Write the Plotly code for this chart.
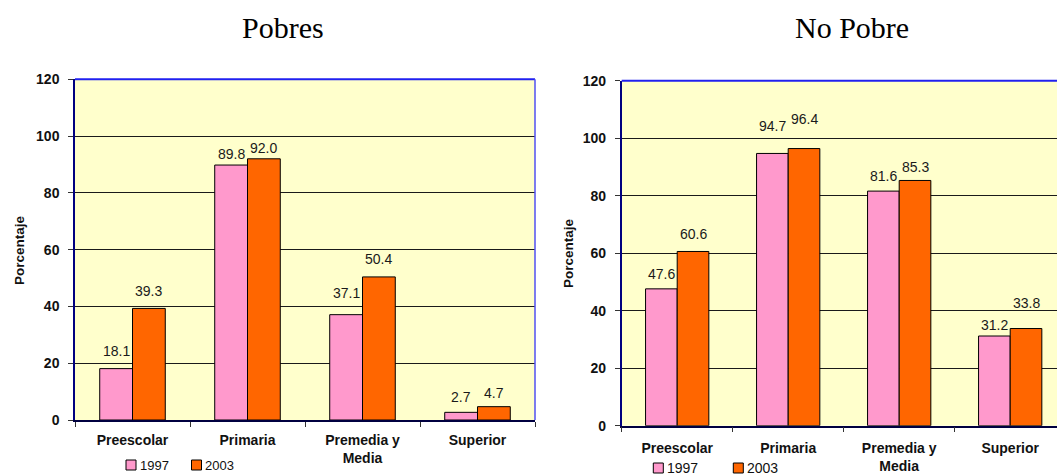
import plotly.graph_objects as go

# Data
categories = ["Preescolar", "Primaria", "Premedia y<br>Media", "Superior"]
years = ["1997", "2003"]
pobres_1997 = [18.1, 89.8, 37.1, 2.7]
pobres_2003 = [39.3, 92.0, 50.4, 4.7]
nopobre_1997 = [47.6, 94.7, 81.6, 31.2]
nopobre_2003 = [60.6, 96.4, 85.3, 33.8]
panel_titles = ["Pobres", "No Pobre"]
y_ticks = [0, 20, 40, 60, 80, 100, 120]

# Style
W, H = 1057, 476
PINK = "#FF99CC"
ORANGE = "#FF6600"
PLOT_BG = "#FFFFCC"
SANS = "Liberation Sans, Arial, sans-serif"
SERIF = "Liberation Serif, Times New Roman, serif"
BARGAP = 0.43
HALF = (1 - BARGAP) / 4  # offset of each bar centre from the category centre

# label lift above bar tops (pixels), per series and category
lift_left = {"1997": [18, 11, 22, 15], "2003": [17, 11, 18, 14]}
lift_right = {"1997": [15, 27, 15, 11], "2003": [17, 30, 13, 26]}


def px_x(p):
    return p / W


def px_y(p):
    return 1 - p / H


fig = go.Figure()

panels = [
    dict(xa="x", ya="y", v97=pobres_1997, v03=pobres_2003, lift=lift_left),
    dict(xa="x2", ya="y2", v97=nopobre_1997, v03=nopobre_2003, lift=lift_right),
]

for p in panels:
    for yr, vals, col in ((years[0], p["v97"], PINK), (years[1], p["v03"], ORANGE)):
        fig.add_trace(go.Bar(
            x=categories, y=vals, name=yr, xaxis=p["xa"], yaxis=p["ya"],
            marker=dict(color=col, line=dict(color="#000000", width=1)),
            showlegend=False, hoverinfo="x+y",
        ))
    # value labels
    for yr, vals, sign in ((years[0], p["v97"], -1), (years[1], p["v03"], 1)):
        for i, v in enumerate(vals):
            fig.add_annotation(
                x=i + sign * HALF, y=v, xref=p["xa"], yref=p["ya"],
                text=f"{v:.1f}", showarrow=False, yanchor="middle",
                yshift=p["lift"][yr][i],
                font=dict(family=SANS, size=14, color="#1a1a1a"),
            )

axis_common_x = dict(
    type="category", tickson="boundaries", ticks="outside", ticklen=5,
    tickcolor="#333333", showline=True, linecolor="#000040", linewidth=1.5,
    tickfont=dict(family=SANS, size=14, color="#111111", weight="bold"),
    showgrid=False, zeroline=False, fixedrange=True, automargin=False,
)
axis_common_y = dict(
    range=[0, 120], tickvals=y_ticks, ticks="outside", ticklen=5,
    tickcolor="#333333", showline=True, linecolor="#000080", linewidth=1.5,
    showgrid=True, gridcolor="#1a1a1a", gridwidth=1, zeroline=False,
    tickfont=dict(family=SANS, size=14, color="#111111", weight="bold"),
    ticklabelstandoff=6, fixedrange=True, automargin=False,
)

left_dom_x = [px_x(75), px_x(535)]
left_dom_y = [px_y(420), px_y(79.3)]
right_dom_x = [px_x(621.7), 1.0]
right_dom_y = [px_y(425.7), px_y(80.7)]
right_end = 3.5 - (621.7 + 4 * 111 - W) / 111

fig.update_layout(
    width=W, height=H, margin=dict(l=0, r=0, t=0, b=0),
    paper_bgcolor="#FFFFFF", plot_bgcolor=PLOT_BG,
    barmode="group", bargap=BARGAP, bargroupgap=0,
    xaxis=dict(axis_common_x, domain=left_dom_x, anchor="y", range=[-0.5, 3.5],
               ticklabelstandoff=6),
    yaxis=dict(axis_common_y, domain=left_dom_y, anchor="x"),
    xaxis2=dict(axis_common_x, domain=right_dom_x, anchor="y2", range=[-0.5, right_end],
                ticklabelstandoff=9),
    yaxis2=dict(axis_common_y, domain=right_dom_y, anchor="x2"),
)

# y-axis titles, rotated, beside each panel
for cx, cy in ((19, 250), (568, 253)):
    fig.add_annotation(
        x=px_x(cx), y=px_y(cy), xref="paper", yref="paper", text="Porcentaje",
        textangle=-90, showarrow=False, xanchor="center", yanchor="middle",
        font=dict(family=SANS, size=13.5, color="#111111", weight="bold"),
    )

# plot-area borders (top and right edges)
BORDER = "#2020F0"
fig.add_shape(type="line", xref="x domain", yref="y domain", x0=0, x1=1, y0=1, y1=1,
              line=dict(color=BORDER, width=2), layer="above")
fig.add_shape(type="line", xref="x domain", yref="y domain", x0=1, x1=1, y0=0, y1=1,
              line=dict(color="#5050F0", width=1.5), layer="above")
fig.add_shape(type="line", xref="x2 domain", yref="y2 domain", x0=0, x1=1, y0=1, y1=1,
              line=dict(color=BORDER, width=2), layer="above")

# panel titles
for txt, cx in zip(panel_titles, (283, 851.7)):
    fig.add_annotation(
        x=px_x(cx), y=px_y(27), xref="paper", yref="paper", text=txt,
        showarrow=False, xanchor="center", yanchor="middle",
        font=dict(family=SERIF, size=30, color="#000000"),
    )

# legends drawn under each panel
legend_specs = [
    dict(y=465, items=[(126, 140), (191.5, 205)], size=13),
    dict(y=468, items=[(653.3, 667), (733.3, 747)], size=14),
]
for spec in legend_specs:
    for (sq_x, tx_x), yr, col in zip(spec["items"], years, (PINK, ORANGE)):
        fig.add_shape(
            type="rect", xref="paper", yref="paper",
            x0=px_x(sq_x), x1=px_x(sq_x + 10), y0=px_y(spec["y"] + 5), y1=px_y(spec["y"] - 5),
            fillcolor=col, line=dict(color="#000000", width=1),
        )
        fig.add_annotation(
            x=px_x(tx_x), y=px_y(spec["y"]), xref="paper", yref="paper", text=yr,
            showarrow=False, xanchor="left", yanchor="middle", xshift=-2,
            font=dict(family=SANS, size=spec["size"], color="#111111"),
        )

fig.write_html("out.html")
